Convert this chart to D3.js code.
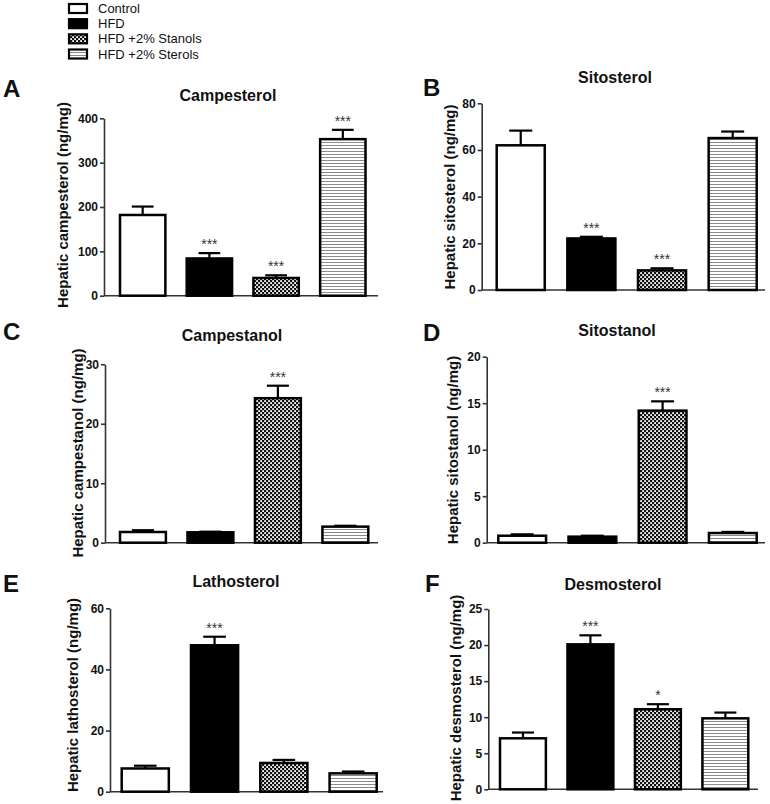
<!DOCTYPE html>
<html>
<head>
<meta charset="utf-8">
<script src="https://cdn.jsdelivr.net/npm/d3@7"></script>
<style>
  html, body { margin: 0; padding: 0; background: #fff; }
  svg { display: block; font-family: "Liberation Sans", Arial, sans-serif; }
</style>
</head>
<body>
<svg id="chart" width="770" height="804"></svg>
<script>
// ---------------- data ----------------
const groups = ["Control", "HFD", "HFD +2% Stanols", "HFD +2% Sterols"];

const campesterol = [182, 84, 40, 353];
const campesterolErr = [19, 12, 6, 21];
const campesterolSig = ["", "***", "***", "***"];
const campesterolTicks = [0, 100, 200, 300, 400];

const sitosterol = [62, 22.1, 8.4, 65.1];
const sitosterolErr = [6.3, 0.7, 0.9, 2.8];
const sitosterolSig = ["", "***", "***", ""];
const sitosterolTicks = [0, 20, 40, 60, 80];

const campestanol = [1.8, 1.75, 24.3, 2.7];
const campestanolErr = [0.3, 0.1, 2.1, 0.15];
const campestanolSig = ["", "", "***", ""];
const campestanolTicks = [0, 10, 20, 30];

const sitostanol = [0.75, 0.65, 14.2, 1.04];
const sitostanolErr = [0.15, 0.1, 1.0, 0.12];
const sitostanolSig = ["", "", "***", ""];
const sitostanolTicks = [0, 5, 10, 15, 20];

const lathosterol = [7.6, 47.9, 9.4, 6.0];
const lathosterolErr = [0.9, 2.8, 1.0, 0.6];
const lathosterolSig = ["", "***", "", ""];
const lathosterolTicks = [0, 20, 40, 60];

const desmosterol = [7.07, 20.1, 11.1, 9.84];
const desmosterolErr = [0.8, 1.25, 0.7, 0.8];
const desmosterolSig = ["", "***", "*", ""];
const desmosterolTicks = [0, 5, 10, 15, 20, 25];

const panelLetters = ["A", "B", "C", "D", "E", "F"];
const panelTitles = ["Campesterol", "Sitosterol", "Campestanol", "Sitostanol", "Lathosterol", "Desmosterol"];
const axisLabels = [
  "Hepatic campesterol (ng/mg)",
  "Hepatic sitosterol (ng/mg)",
  "Hepatic campestanol (ng/mg)",
  "Hepatic sitostanol (ng/mg)",
  "Hepatic lathosterol (ng/mg)",
  "Hepatic desmosterol (ng/mg)"
];

const panelData = [
  { values: campesterol, errs: campesterolErr, sig: campesterolSig, ticks: campesterolTicks },
  { values: sitosterol, errs: sitosterolErr, sig: sitosterolSig, ticks: sitosterolTicks },
  { values: campestanol, errs: campestanolErr, sig: campestanolSig, ticks: campestanolTicks },
  { values: sitostanol, errs: sitostanolErr, sig: sitostanolSig, ticks: sitostanolTicks },
  { values: lathosterol, errs: lathosterolErr, sig: lathosterolSig, ticks: lathosterolTicks },
  { values: desmosterol, errs: desmosterolErr, sig: desmosterolSig, ticks: desmosterolTicks }
];

// ---------------- layout (positions only) ----------------
const layout = [
  { ax: 104, axEnd: 378, yTop: 118.3, y0: 295.7, b0: 120, b1: 365.5, letter: [3, 97], title: [228, 101], label: [68, 205] },
  { ax: 481.7, axEnd: 765, yTop: 103.3, y0: 290, b0: 496.7, b1: 756.7, letter: [423, 96], title: [615, 83], label: [455, 197] },
  { ax: 105, axEnd: 378, yTop: 364.3, y0: 542.7, b0: 120, b1: 368.3, letter: [3, 340], title: [232, 341], label: [83, 453] },
  { ax: 486.7, axEnd: 765, yTop: 356.7, y0: 542.7, b0: 498.3, b1: 756.7, letter: [423, 341], title: [617, 336], label: [458, 450] },
  { ax: 110, axEnd: 383, yTop: 608.3, y0: 791.7, b0: 121.7, b1: 376.7, letter: [3, 592], title: [236, 587], label: [78, 695] },
  { ax: 488.3, axEnd: 758, yTop: 609, y0: 789.3, b0: 500, b1: 748.3, letter: [425, 592], title: [613, 590], label: [461, 698] }
];

const svg = d3.select("#chart");

// ---------------- patterns ----------------
const defs = svg.append("defs");
const pStan = defs.append("pattern").attr("id", "stanols")
  .attr("patternUnits", "userSpaceOnUse").attr("width", 4).attr("height", 4);
pStan.append("rect").attr("width", 4).attr("height", 4).attr("fill", "#111");
pStan.append("rect").attr("x", 0.2).attr("y", 0.2).attr("width", 1.8).attr("height", 1.8).attr("fill", "#fff");
pStan.append("rect").attr("x", 2.2).attr("y", 2.2).attr("width", 1.8).attr("height", 1.8).attr("fill", "#fff");

const pSter = defs.append("pattern").attr("id", "sterols")
  .attr("patternUnits", "userSpaceOnUse").attr("width", 6).attr("height", 3);
pSter.append("rect").attr("width", 6).attr("height", 3).attr("fill", "#fff");
pSter.append("rect").attr("y", 1).attr("width", 6).attr("height", 1).attr("fill", "#8a8a8a");

const fills = ["#fff", "#000", "url(#stanols)", "url(#sterols)"];
const fillScale = d3.scaleOrdinal().domain(groups).range(fills);

// ---------------- legend ----------------
const legend = svg.append("g");
const legendY = d3.scalePoint().domain(groups).range([8.5, 54]);
groups.forEach(g => {
  const cy = legendY(g);
  legend.append("rect").attr("x", 69).attr("y", cy - 4.5).attr("width", 18).attr("height", 9)
    .attr("fill", fillScale(g)).attr("stroke", "#000").attr("stroke-width", 2.2);
  legend.append("text").attr("x", 98).attr("y", cy + 4.5)
    .attr("font-size", 13).attr("fill", "#111").text(g);
});

// ---------------- panels ----------------
panelData.forEach((pd, i) => {
  const L = layout[i];
  const g = svg.append("g");
  const maxT = pd.ticks[pd.ticks.length - 1];
  const y = d3.scaleLinear().domain([0, maxT]).range([L.y0, L.yTop]);
  const x = d3.scaleBand().domain(groups).range([L.b0, L.b1]).paddingInner(0.32).paddingOuter(0);

  g.append("text").attr("x", L.letter[0]).attr("y", L.letter[1])
    .attr("font-size", 24).attr("font-weight", "bold").attr("fill", "#111").text(panelLetters[i]);
  g.append("text").attr("x", L.title[0]).attr("y", L.title[1]).attr("text-anchor", "middle")
    .attr("font-size", 16).attr("font-weight", "bold").attr("fill", "#111").text(panelTitles[i]);
  g.append("text").attr("transform", `translate(${L.label[0]},${L.label[1]}) rotate(-90)`)
    .attr("text-anchor", "middle").attr("font-size", 15).attr("font-weight", "bold")
    .attr("fill", "#111").text(axisLabels[i]);

  const yAxis = d3.axisLeft(y).tickValues(pd.ticks).tickSize(4).tickPadding(2).tickSizeOuter(0)
    .tickFormat(d3.format("d"));
  const ya = g.append("g").attr("transform", `translate(${L.ax},0)`).call(yAxis);
  ya.select(".domain").attr("stroke", "#333").attr("stroke-width", 1.6);
  ya.selectAll(".tick line").attr("stroke", "#333").attr("stroke-width", 1.6);
  ya.selectAll(".tick text").attr("font-size", 12).attr("font-weight", "bold")
    .attr("fill", "#111").attr("font-family", "Liberation Sans, Arial, sans-serif");

  g.append("line").attr("x1", L.ax).attr("x2", L.axEnd).attr("y1", L.y0).attr("y2", L.y0)
    .attr("stroke", "#333").attr("stroke-width", 1.6);

  const rows = groups.map((grp, k) => ({ grp, v: pd.values[k], e: pd.errs[k], s: pd.sig[k] }));

  rows.forEach(r => {
    const cx = x(r.grp) + x.bandwidth() / 2;
    const capW = x.bandwidth() * 0.48;
    g.append("line").attr("x1", cx).attr("x2", cx).attr("y1", y(r.v)).attr("y2", y(r.v + r.e))
      .attr("stroke", "#000").attr("stroke-width", 2.2);
    g.append("line").attr("x1", cx - capW / 2).attr("x2", cx + capW / 2)
      .attr("y1", y(r.v + r.e)).attr("y2", y(r.v + r.e))
      .attr("stroke", "#000").attr("stroke-width", 2.2);
  });

  g.selectAll("rect.bar").data(rows).enter().append("rect").attr("class", "bar")
    .attr("x", d => x(d.grp)).attr("width", x.bandwidth())
    .attr("y", d => y(d.v)).attr("height", d => L.y0 - y(d.v))
    .attr("fill", d => fillScale(d.grp)).attr("stroke", "#000").attr("stroke-width", 2.5);

  g.selectAll("text.sig").data(rows.filter(r => r.s)).enter().append("text").attr("class", "sig")
    .attr("x", d => x(d.grp) + x.bandwidth() / 2)
    .attr("y", d => y(d.v + d.e) - 4)
    .attr("text-anchor", "middle").attr("font-size", 14).attr("fill", "#333")
    .text(d => d.s);
});
</script>
</body>
</html>
